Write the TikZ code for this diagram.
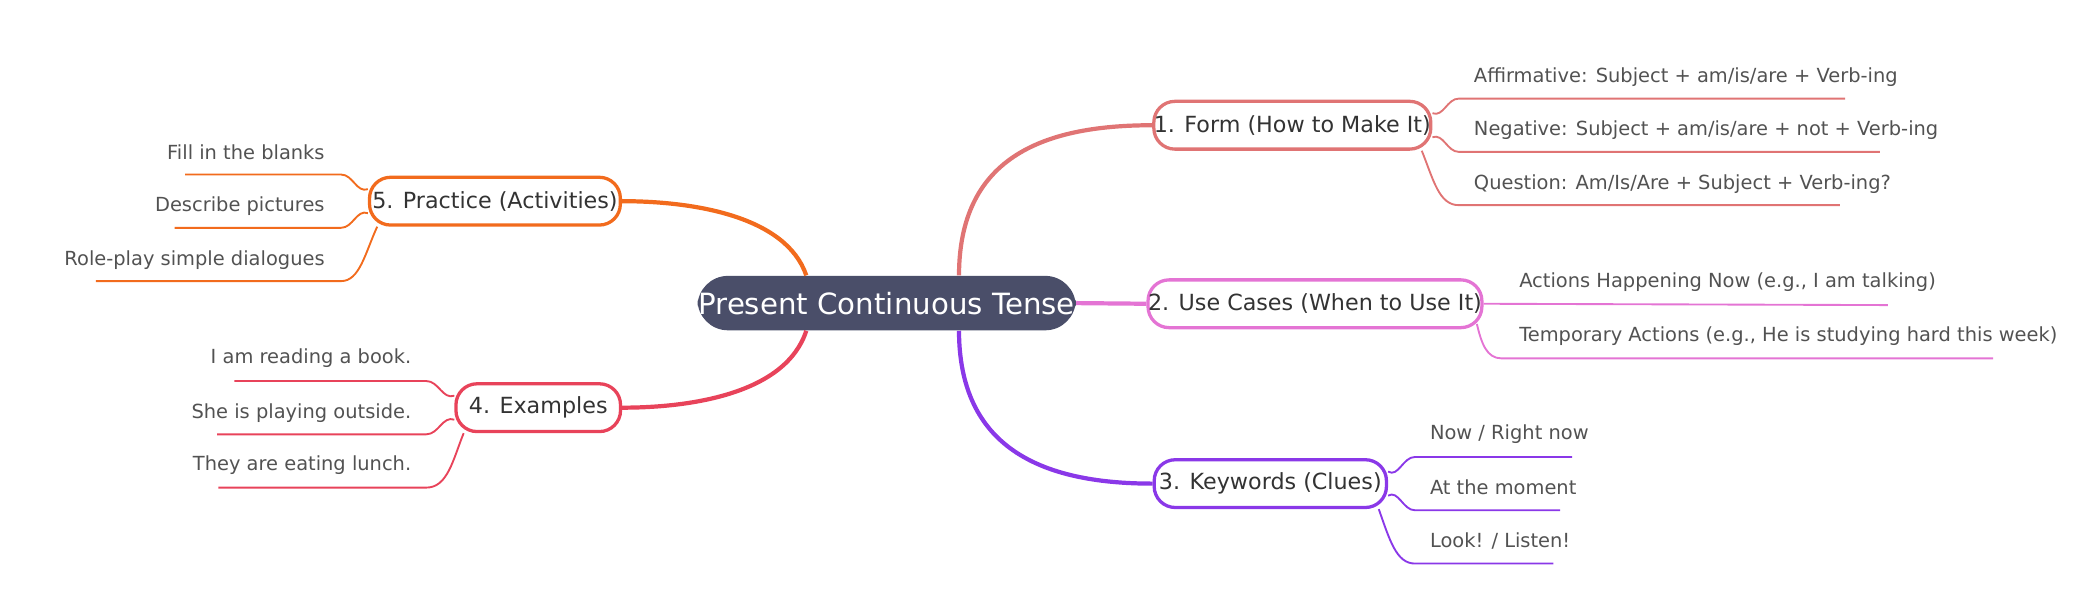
\documentclass[tikz,border=0pt]{standalone}
\usepackage{fontspec}
\setmainfont{DejaVu Sans}
\begin{document}
\definecolor{cen}{HTML}{4A4E69}
\definecolor{cA}{HTML}{E07474}
\definecolor{cB}{HTML}{E474D4}
\definecolor{cC}{HTML}{8A38E8}
\definecolor{cD}{HTML}{E8435A}
\definecolor{cE}{HTML}{F26B1D}
\begin{tikzpicture}[x=0.02cm,y=-0.02cm,
  topic/.style={draw=#1,line width=1.4pt,rounded corners=9pt,fill=white,text=black!80,font=\fontsize{9.5}{11}\selectfont,inner sep=0pt},
  branch/.style={draw=#1,line width=1.8pt},
  sub/.style={text=black!68,font=\fontsize{8.3}{10}\selectfont,inner sep=0pt},
  leaf/.style={draw=#1,line width=0.8pt}]
\useasboundingbox (0,0) rectangle (1568,456);
% center
\node[fill=cen,rounded corners=13pt,minimum width=285*0.567pt,minimum height=41*0.567pt,text=white,font=\fontsize{12.5}{14}\selectfont,inner sep=0pt] (c) at (665.5,227.5) {Present Continuous Tense};
% topics
\node[topic=cA,minimum width=208*0.567pt,minimum height=36*0.567pt] (t1) at (970,94) {1. Form (How to Make It)};
\node[topic=cB,minimum width=242*0.567pt,minimum height=36*0.567pt] (t2) at (987,228) {2. Use Cases (When to Use It)};
\node[topic=cC,minimum width=175*0.567pt,minimum height=36*0.567pt] (t3) at (953.5,363) {3. Keywords (Clues)};
\node[topic=cD,minimum width=124*0.567pt,minimum height=36*0.567pt] (t4) at (404,306) {4. Examples};
\node[topic=cE,minimum width=189*0.567pt,minimum height=36*0.567pt] (t5) at (371.5,151) {5. Practice (Activities)};
% branches
\draw[branch=cA] (c.north east)++(-88,0) coordinate(b1) .. controls (720,120) and (780,94) .. (t1.west);
\draw[branch=cB] (c.east) -- (t2.west);
\draw[branch=cC] (c.south east)++(-88,0) coordinate(b3) .. controls (720,335) and (780,363) .. (t3.west);
\draw[branch=cD] (c.south west)++(82,0) coordinate(b4) .. controls (590,295) and (520,306) .. (t4.east);
\draw[branch=cE] (c.north west)++(82,0) coordinate(b5) .. controls (590,162) and (520,151) .. (t5.east);
% leaves branch 1
\node[sub,anchor=west] (l11) at (1106,58) {Affirmative: Subject + am/is/are + Verb-ing};
\node[sub,anchor=west] (l12) at (1106,98) {Negative: Subject + am/is/are + not + Verb-ing};
\node[sub,anchor=west] (l13) at (1106,138) {Question: Am/Is/Are + Subject + Verb-ing?};
\draw[leaf=cA] (t1.east)++(0,-9) to[out=-20,in=180] (1095,74) -- (1385,74);
\draw[leaf=cA] (t1.east)++(0,9) to[out=20,in=180] (1095,114) -- (1411,114);
\draw[leaf=cA] (t1.south east)++(-8,0) .. controls (1076,135) and (1080,154) .. (1095,154) -- (1381,154);
% branch 2
\node[sub,anchor=west] (l21) at (1140,212) {Actions Happening Now (e.g., I am talking)};
\node[sub,anchor=west] (l22) at (1140,252) {Temporary Actions (e.g., He is studying hard this week)};
\draw[leaf=cB] (t2.east) -- (1417,229);
\draw[leaf=cB] (t2.south east)++(-5,-4) .. controls (1112,258) and (1116,269) .. (1127,269) -- (1496,269);
% branch 3
\node[sub,anchor=west] (l31) at (1073,326) {Now / Right now};
\node[sub,anchor=west] (l32) at (1073,366) {At the moment};
\node[sub,anchor=west] (l33) at (1073,406) {Look! / Listen!};
\draw[leaf=cC] (t3.east)++(0,-9) to[out=-30,in=180] (1062,343) -- (1180,343);
\draw[leaf=cC] (t3.east)++(0,9) to[out=30,in=180] (1062,383) -- (1171,383);
\draw[leaf=cC] (t3.south east)++(-7,0) .. controls (1043,405) and (1048,423) .. (1062,423) -- (1166,423);
% branch 4
\node[sub,anchor=east] (l41) at (309,269) {I am reading a book.};
\node[sub,anchor=east] (l42) at (309,310) {She is playing outside.};
\node[sub,anchor=east] (l43) at (309,349) {They are eating lunch.};
\draw[leaf=cD] (t4.west)++(0,-9) to[out=200,in=0] (320,286) -- (176,286);
\draw[leaf=cD] (t4.west)++(0,9) to[out=160,in=0] (320,326) -- (163,326);
\draw[leaf=cD] (t4.south west)++(7,0) .. controls (340,345) and (336,366) .. (320,366) -- (164,366);
% branch 5
\node[sub,anchor=east] (l51) at (244,114) {Fill in the blanks};
\node[sub,anchor=east] (l52) at (244,155) {Describe pictures};
\node[sub,anchor=east] (l53) at (244,195) {Role-play simple dialogues};
\draw[leaf=cE] (t5.west)++(0,-9) to[out=200,in=0] (256,131) -- (139,131);
\draw[leaf=cE] (t5.west)++(0,9) to[out=160,in=0] (256,171) -- (131,171);
\draw[leaf=cE] (t5.south west)++(7,0) .. controls (274,190) and (270,211) .. (256,211) -- (72,211);
\end{tikzpicture}
\end{document}
